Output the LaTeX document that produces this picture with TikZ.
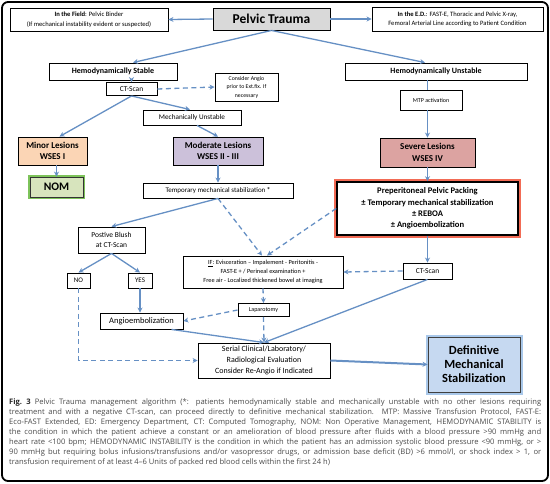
\documentclass[tikz,border=0pt]{standalone}
\usepackage{fontspec}
\setmainfont{Carlito}
\newfontfamily\capfont{Open Sans}
\usepackage{xcolor}
\usetikzlibrary{arrows.meta, calc}
\definecolor{arrowblue}{HTML}{6690C4}
\definecolor{traumagray}{HTML}{D9D9D9}
\definecolor{minorfill}{HTML}{FBD5B5}
\definecolor{modfill}{HTML}{CCC1DA}
\definecolor{severefill}{HTML}{DCA3A1}
\definecolor{nomfill}{HTML}{D7E4BD}
\definecolor{nomglow}{HTML}{7DC35A}
\definecolor{packglow}{HTML}{F26B55}
\definecolor{defill}{HTML}{C6D9F1}
\definecolor{deglow}{HTML}{A9C8EA}
\definecolor{captext}{HTML}{4A4A4A}
\newcommand{\fsz}[2]{\fontsize{#1}{#2}\selectfont}

\begin{document}
\begin{tikzpicture}[x=1pt, y=-1pt, >={Stealth[length=5pt,width=5pt]},
  box/.style={draw, line width=0.9pt, inner sep=0pt, align=center},
  flow/.style={->, draw=arrowblue, line width=1.3pt},
  dflow/.style={flow, dash pattern=on 5pt off 3.5pt}]
  \useasboundingbox (0,0) rectangle (550,483);
  \draw[line width=1.8pt, rounded corners=6pt] (2,2) rectangle (548,481);

  \node[box, fill=traumagray, minimum width=117pt, minimum height=22pt, font=\fsz{13.5}{15}\bfseries] (trauma) at (271.5,19) {Pelvic Trauma};
  \node[box, minimum width=158pt, minimum height=23pt, font=\fsz{6.6}{9.5}] (field) at (89,19.5) {\textbf{In the Field}: Pelvic Binder\\(If mechanical instability evident or suspected)};
  \node[box, minimum width=171pt, minimum height=24pt, font=\fsz{6.6}{9.5}] (ed) at (457.5,19) {\textbf{In the E.D.}: FAST-E, Thoracic and Pelvic X-ray,\\Femoral Arterial Line according to Patient Condition};

  \node[box, minimum width=128pt, minimum height=17pt, font=\fsz{8}{9}\bfseries] (hstable) at (113,71.5) {Hemodynamically Stable};
  \node[box, minimum width=182pt, minimum height=17pt, font=\fsz{8}{9}\bfseries] (hunstable) at (436,71.5) {Hemodynamically Unstable};
  \node[box, minimum width=51pt, minimum height=13pt, font=\fsz{7.5}{9}] (ctleft) at (131.5,89) {CT-Scan};
  \node[box, minimum width=63pt, minimum height=28pt, font=\fsz{5.8}{8.5}] (consider) at (246.5,87) {Consider Angio\\prior to Ext.fix. If\\necessary};
  \node[box, minimum width=98pt, minimum height=15pt, font=\fsz{7.2}{9}] (mech) at (192,117.5) {Mechanically Unstable};
  \node[box, minimum width=62pt, minimum height=20pt, font=\fsz{6}{8}] (mtp) at (431,100) {MTP activation};

  \node[box, fill=minorfill, minimum width=69pt, minimum height=28pt, font=\fsz{9}{11.5}\bfseries] (minor) at (52.5,151) {Minor Lesions\\WSES I};
  \node[box, fill=modfill, minimum width=90pt, minimum height=28pt, font=\fsz{9}{11.5}\bfseries] (moderate) at (218,151) {Moderate Lesions\\WSES II - III};
  \node[box, fill=severefill, minimum width=95pt, minimum height=29pt, font=\fsz{9}{11.5}\bfseries] (severe) at (427.5,152.5) {Severe Lesions\\WSES IV};
  \node[box, fill=nomfill, draw=black!80, preaction={draw=nomglow, line width=4pt}, minimum width=53pt, minimum height=20pt, font=\fsz{11.5}{13}\bfseries] (nom) at (56.5,187) {NOM};
  \node[box, minimum width=150pt, minimum height=15pt, font=\fsz{7}{8}] (tempstab) at (218,190.5) {Temporary mechanical stabilization \textbf{*}};
  \node[box, fill=white, line width=1.6pt, preaction={draw=packglow, line width=6pt}, minimum width=181pt, minimum height=53pt, font=\fsz{8.6}{11.3}\bfseries] (packing) at (427.5,208.5) {Preperitoneal Pelvic Packing\\± Temporary mechanical stabilization\\± REBOA\\± Angioembolization};

  \node[box, minimum width=67pt, minimum height=26pt, font=\fsz{7.5}{9.5}] (blush) at (111.5,240) {Postive Blush\\at CT-Scan};
  \node[box, minimum width=160pt, minimum height=32pt, font=\fsz{6.3}{9}] (ifbox) at (263,272) {\underline{IF}: Evisceration – Impalement - Peritonitis -\\FAST-E + / Perineal examination +\\Free air - Localized thickened bowel at imaging};
  \node[box, minimum width=49pt, minimum height=16pt, font=\fsz{7.5}{9}] (ctright) at (427.5,271) {CT-Scan};
  \node[box, minimum width=23pt, minimum height=15pt, font=\fsz{7}{9}] (no) at (78.5,280.5) {NO};
  \node[box, minimum width=24pt, minimum height=15pt, font=\fsz{7}{9}] (yes) at (140,280.5) {YES};
  \node[box, minimum width=51pt, minimum height=13pt, font=\fsz{6}{8}] (lap) at (263.5,310) {Laparotomy};
  \node[box, minimum width=83pt, minimum height=16pt, font=\fsz{8.5}{10}] (angio) at (141.5,321) {Angioembolization};
  \node[box, minimum width=132pt, minimum height=35pt, font=\fsz{8}{11}] (serial) at (264,360.5) {Serial Clinical/Laboratory/\\Radiological Evaluation\\Consider Re-Angio if Indicated};
  \node[box, fill=defill, draw=black!75, preaction={draw=deglow, line width=5pt}, minimum width=92pt, minimum height=55pt, font=\fsz{12.5}{14}\bfseries] (defin) at (474,364.5) {Definitive\\Mechanical\\Stabilization};

  \draw[flow] (trauma.west) -- (field.east);
  \draw[flow] (trauma.east) -- (ed.west);
  \draw[flow] (trauma.south) -- ($(hstable.north)+(20,0)$);
  \draw[flow] (trauma.south) -- ($(hunstable.north)+(-11,0)$);
  \draw[flow] (ctleft.north |- hstable.south) -- (ctleft.north);
  \draw[dflow] (ctleft.east) -- (consider.west);
  \draw[flow] (ctleft.south) -- ($(mech.north)+(-2,0)$);
  \draw[flow] (ctleft.south) -- ($(minor.north)+(7,0)$);
  \draw[flow] ($(mech.south)+(5,0)$) -- (moderate.north);
  \draw[flow] (nom.north |- minor.south) -- (nom.north);
  \draw[flow] (moderate.south) -- (tempstab.north);
  \draw[draw=arrowblue, line width=1.3pt] (severe.north |- hunstable.south) -- (severe.north |- mtp.north);
  \draw[flow] (severe.north |- mtp.south) -- (severe.north);
  \draw[flow] (severe.south) -- (packing.north);
  \draw[flow] (packing.south) -- (ctright.north);
  \draw[dflow] (ctright.west) -- (ifbox.east);
  \draw[dflow] (tempstab.south) -- ($(ifbox.north)+(-1,0)$);
  \draw[dflow] (packing.west) -- ($(ifbox.north)+(4,0)$);
  \draw[flow] (tempstab.south) -- (blush.north);
  \draw[flow] (blush.south) -- (no.north);
  \draw[flow] (blush.south) -- (yes.north);
  \draw[flow] (yes.south) -- (yes.south |- angio.north);
  \draw[dflow] (ifbox.south) -- (lap.north);
  \draw[dflow] (lap.west) -- (angio.east);
  \draw[flow] ($(angio.south)+(30,0)$) -- (serial.north);
  \draw[dflow] (lap.south) -- (serial.north);
  \draw[flow] (ctright.south) -- (serial.north);
  \draw[dflow] (no.south) |- (serial.west);
  \draw[flow, line width=2pt] (serial.east) -- (defin.west);

  \node[anchor=north west, inner sep=0pt, text width=532pt, align=justify, font=\capfont\fsz{7.6}{10}, text=captext] (caption) at (9,399) {{\color{black!85}\textbf{Fig.~3}} Pelvic Trauma management algorithm (*: patients hemodynamically stable and mechanically unstable with no other lesions requiring\linebreak treatment and with a negative CT-scan, can proceed directly to definitive mechanical stabilization. MTP: Massive Transfusion Protocol, FAST-E:\linebreak Eco-FAST Extended, ED: Emergency Department, CT: Computed Tomography, NOM: Non Operative Management, HEMODYNAMIC STABILITY is\linebreak the condition in which the patient achieve a constant or an amelioration of blood pressure after fluids with a blood pressure >90 mmHg and\linebreak heart rate <100 bpm; HEMODYNAMIC INSTABILITY is the condition in which the patient has an admission systolic blood pressure <90 mmHg, or >\linebreak 90 mmHg but requiring bolus infusions/transfusions and/or vasopressor drugs, or admission base deficit (BD) >6 mmol/l, or shock index > 1, or\linebreak transfusion requirement of at least 4–6 Units of packed red blood cells within the first 24 h)};
\end{tikzpicture}
\end{document}
